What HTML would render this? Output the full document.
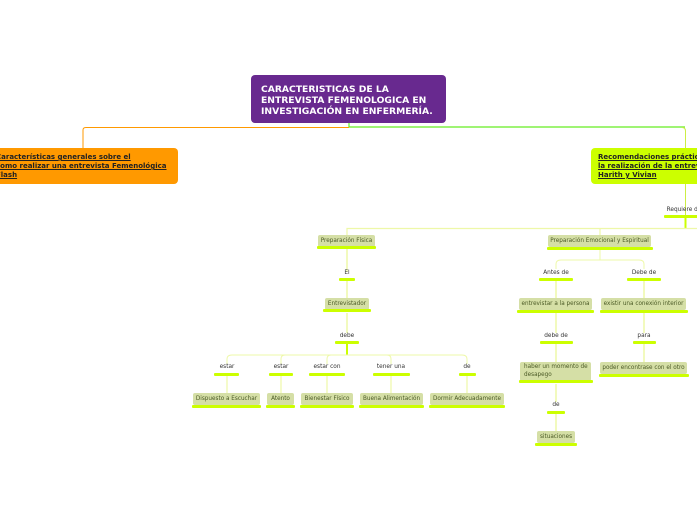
<!DOCTYPE html>
<html><head><meta charset="utf-8"><style>
body{margin:0;width:697px;height:520px;background:#fff;position:relative;overflow:hidden;font-family:"DejaVu Sans","Liberation Sans",sans-serif}
.a{position:absolute}
.n{position:absolute;background:#d5dfa6;border-radius:2px;color:#4b5a26;font-size:5.7px;display:flex;align-items:center;justify-content:center;white-space:nowrap}
.b{position:absolute;height:3px;background:#ccff00;border-radius:1px}
.l{position:absolute;font-size:5.8px;color:#333;transform:translateX(-50%);white-space:nowrap}
</style></head><body>
<svg class="a" style="left:0;top:0" width="697" height="520">
<defs><linearGradient id="g1" x1="0" x2="1"><stop offset="0" stop-color="#e040fb"/><stop offset="1" stop-color="#9a40e0"/></linearGradient>
<linearGradient id="g2" x1="0" x2="1"><stop offset="0" stop-color="#f08070"/><stop offset="1" stop-color="#f8e0d0"/></linearGradient></defs>
<path d="M83 148 V130 Q83 127.5 86 127.5 H349" stroke="#ff9900" stroke-width="1" fill="none"/>
<line x1="0" y1="127" x2="85" y2="127" stroke="url(#g1)" stroke-width="1.5"/>
<line x1="85" y1="127" x2="228" y2="127" stroke="url(#g2)" stroke-width="1"/>
<path d="M349 122 V127 M349 127 H685" stroke="#66ee22" stroke-width="1.2" fill="none"/>
<path d="M682 127.5 Q685.5 127.5 685.5 131 V148 M685.5 183 V216" stroke="#ccee44" stroke-width="1" fill="none"/>
<path d="M685.5 218 V228" stroke="#ccff00" stroke-width="2" fill="none"/>
<path d="M347 235 V228.5 H697" stroke="#eef8a8" stroke-width="1.2" fill="none"/>
<path d="M600 228.5 V235" stroke="#eef8a8" stroke-width="1.2" fill="none"/>
<path d="M347 249 V272 M347 281 V298 M347 313 V333" stroke="#eef8a8" stroke-width="1.5" fill="none"/>
<path d="M347 344 V355" stroke="#ccff00" stroke-width="2" fill="none"/>
<path d="M227 364 V359 Q227 355 232 355 H462 Q467 355 467 359 V364 M281 364 V359 Q281 355 285 355 M327 364 V359 Q327 355 331 355 M391 364 V359 Q391 355 387 355" stroke="#eef8a8" stroke-width="1" fill="none"/>
<path d="M227 376 V393 M281 376 V393 M327 376 V393 M391 376 V393 M467 376 V393" stroke="#eef8a8" stroke-width="1.2" fill="none"/>
<path d="M600 250 V260 M556 269 V264 Q556 260 561 260 H639 Q644 260 644 264 V269" stroke="#eef8a8" stroke-width="1" fill="none"/>
<path d="M556 281 V298 M644 281 V298 M556 313 V333 M644 313 V333 M556 344 V362 M644 344 V362 M556 384 V402 M556 414 V431" stroke="#eef8a8" stroke-width="1.5" fill="none"/>
</svg>
<div class="a" style="left:251px;top:75px;width:195px;height:48px;background:#68298f;border-radius:4px;color:#fff;font-weight:bold;font-size:9.2px;line-height:11px;padding:8.5px 0 0 10px;box-sizing:border-box;white-space:nowrap">CARACTERISTICAS DE LA<br>ENTREVISTA FEMENOLOGICA EN<br>INVESTIGACIÓN EN ENFERMERÍA.</div>
<div class="a" style="left:-24px;top:148px;width:202px;height:36px;background:#ff9900;border-radius:4px;color:#222;font-weight:bold;font-size:7px;line-height:9px;padding:5px 0 0 20px;box-sizing:border-box;text-decoration:underline;white-space:nowrap">Características generales sobre el<br>como realizar una entrevista Femenológica <br>Flash</div>
<div class="a" style="left:591px;top:148px;width:120px;height:36px;background:#ccff00;border-radius:4px;color:#222;font-weight:bold;font-size:7px;line-height:9px;padding:5px 0 0 7px;box-sizing:border-box;text-decoration:underline;white-space:nowrap;overflow:hidden">Recomendaciones prácticas<br>la realización de la entrevista<br>Harith y Vivian</div>
<div class="l" style="left:684px;top:207px">Requiere de</div><div class="b" style="left:664px;top:215px;width:40px"></div>

<div class="n" style="left:318px;top:235px;width:57px;height:12px">Preparación Física</div><div class="b" style="left:317px;top:246px;width:59px"></div>
<div class="l" style="left:347px;top:270px">El</div><div class="b" style="left:339px;top:278px;width:16px"></div>
<div class="n" style="left:325px;top:298px;width:44px;height:12px">Entrevistador</div><div class="b" style="left:323px;top:309px;width:48px"></div>
<div class="l" style="left:347px;top:333px">debe</div><div class="b" style="left:335px;top:341px;width:24px"></div>
<div class="l" style="left:227px;top:364px">estar</div><div class="b" style="left:214px;top:373px;width:25px"></div>
<div class="l" style="left:281px;top:364px">estar</div><div class="b" style="left:269px;top:373px;width:24px"></div>
<div class="l" style="left:327px;top:364px">estar con</div><div class="b" style="left:309px;top:373px;width:36px"></div>
<div class="l" style="left:391px;top:364px">tener una</div><div class="b" style="left:373px;top:373px;width:37px"></div>
<div class="l" style="left:467px;top:364px">de</div><div class="b" style="left:459px;top:373px;width:17px"></div>
<div class="n" style="left:193px;top:393px;width:67px;height:12px">Dispuesto a Escuchar</div><div class="b" style="left:192px;top:405px;width:69px"></div>
<div class="n" style="left:267px;top:393px;width:27px;height:12px">Atento</div><div class="b" style="left:266px;top:405px;width:29px"></div>
<div class="n" style="left:301px;top:393px;width:52px;height:12px">Bienestar Físico</div><div class="b" style="left:300px;top:405px;width:54px"></div>
<div class="n" style="left:360px;top:393px;width:63px;height:12px">Buena Alimentación</div><div class="b" style="left:359px;top:405px;width:65px"></div>
<div class="n" style="left:430px;top:393px;width:74px;height:12px">Dormir Adecuadamente</div><div class="b" style="left:429px;top:405px;width:76px"></div>

<div class="n" style="left:548px;top:235px;width:103px;height:12px">Preparación Emocional y Espiritual</div><div class="b" style="left:547px;top:247px;width:106px"></div>
<div class="l" style="left:556px;top:270px">Antes de</div><div class="b" style="left:539px;top:278px;width:34px"></div>
<div class="l" style="left:644px;top:270px">Debe de</div><div class="b" style="left:627px;top:278px;width:34px"></div>
<div class="n" style="left:519px;top:298px;width:73px;height:12px">entrevistar a la persona</div><div class="b" style="left:517px;top:310px;width:77px"></div>
<div class="n" style="left:601px;top:298px;width:85px;height:12px">existir una conexión interior</div><div class="b" style="left:600px;top:310px;width:88px"></div>
<div class="l" style="left:556px;top:333px">debe de</div><div class="b" style="left:540px;top:341px;width:33px"></div>
<div class="l" style="left:644px;top:333px">para</div><div class="b" style="left:633px;top:341px;width:23px"></div>
<div class="n" style="left:520px;top:362px;width:71px;height:19px;justify-content:flex-start;padding-left:4px;box-sizing:border-box;line-height:7.5px;white-space:normal">haber un momento de desapego</div><div class="b" style="left:519px;top:380px;width:74px"></div>
<div class="n" style="left:600px;top:362px;width:87px;height:12px">poder encontrase con el otro</div><div class="b" style="left:599px;top:374px;width:90px"></div>
<div class="l" style="left:556px;top:402px">de</div><div class="b" style="left:547px;top:411px;width:18px"></div>
<div class="n" style="left:537px;top:431px;width:38px;height:12px">situaciones</div><div class="b" style="left:535px;top:443px;width:42px"></div>
</body></html>
